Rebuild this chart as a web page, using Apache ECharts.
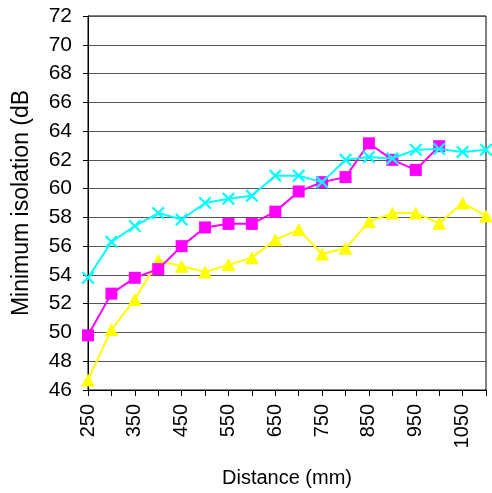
<!DOCTYPE html>
<html>
<head>
<meta charset="utf-8">
<script src="https://cdn.jsdelivr.net/npm/echarts@6/dist/echarts.min.js"></script>
<style>html,body{margin:0;padding:0;background:#fff}#c{width:492px;height:493px}</style>
</head>
<body>
<div id="c"></div>
<script>
const distances = ['250','300','350','400','450','500','550','600','650','700','750','800','850','900','950','1000','1050','1100'];
const cyanSeries = [53.8, 56.3, 57.4, 58.3, 57.85, 59.0, 59.3, 59.5, 60.9, 60.9, 60.45, 62.0, 62.2, 62.1, 62.7, 62.75, 62.55, 62.7];
const magentaSeries = [49.8, 52.7, 53.8, 54.4, 56.0, 57.3, 57.55, 57.55, 58.4, 59.8, 60.45, 60.8, 63.15, 62.0, 61.3, 62.95, null, null];
const yellowSeries = [46.7, 50.2, 52.3, 55.0, 54.6, 54.2, 54.7, 55.2, 56.45, 57.15, 55.45, 55.85, 57.7, 58.3, 58.3, 57.6, 59.0, 58.1];
const yTicks = {min: 46, max: 72, step: 2};

const font = 'Liberation Sans, Arial, sans-serif';
const xShape = 'path://M0,1.2L1.2,0L5,3.8L8.8,0L10,1.2L6.2,5L10,8.8L8.8,10L5,6.2L1.2,10L0,8.8L3.8,5Z';

const chart = echarts.init(document.getElementById('c'), null, {renderer: 'canvas'});
chart.setOption({
  animation: false,
  backgroundColor: '#fff',
  grid: {left: 88, right: 6, top: 16, bottom: 101, show: true, borderColor: '#000', borderWidth: 1},
  xAxis: {
    type: 'category', data: distances, boundaryGap: false,
    name: 'Distance (mm)', nameLocation: 'middle', nameGap: 78,
    nameTextStyle: {fontFamily: font, fontSize: 20, color: '#000'},
    axisLine: {lineStyle: {color: '#000', width: 1}},
    axisTick: {show: true, interval: 0, length: 6, lineStyle: {color: '#000'}},
    axisLabel: {interval: 1, rotate: 90, margin: 14, fontFamily: font, fontSize: 20, color: '#000'},
    splitLine: {show: false}
  },
  yAxis: {
    type: 'value', min: yTicks.min, max: yTicks.max, interval: yTicks.step,
    name: 'Minimum isolation (dB', nameLocation: 'middle', nameGap: 55,
    nameTextStyle: {fontFamily: font, fontSize: 23, color: '#000'},
    axisLine: {show: true, lineStyle: {color: '#000', width: 1}},
    axisTick: {show: true, length: 5, lineStyle: {color: '#000'}},
    axisLabel: {margin: 16, fontFamily: font, fontSize: 21, color: '#000'},
    splitLine: {show: true, lineStyle: {color: '#555', width: 1}}
  },
  series: [
    {type: 'line', data: yellowSeries, symbol: 'triangle', symbolSize: [14, 13],
      lineStyle: {color: '#ffff00', width: 2}, itemStyle: {color: '#ffff00'}, z: 2},
    {type: 'line', data: magentaSeries, symbol: 'rect', symbolSize: 12,
      lineStyle: {color: '#ff00ff', width: 2}, itemStyle: {color: '#ff00ff'}, z: 3},
    {type: 'line', data: cyanSeries, symbol: xShape, symbolSize: 13,
      lineStyle: {color: '#00ffff', width: 2}, itemStyle: {color: '#00ffff'}, z: 4}
  ]
});
</script>
</body>
</html>
